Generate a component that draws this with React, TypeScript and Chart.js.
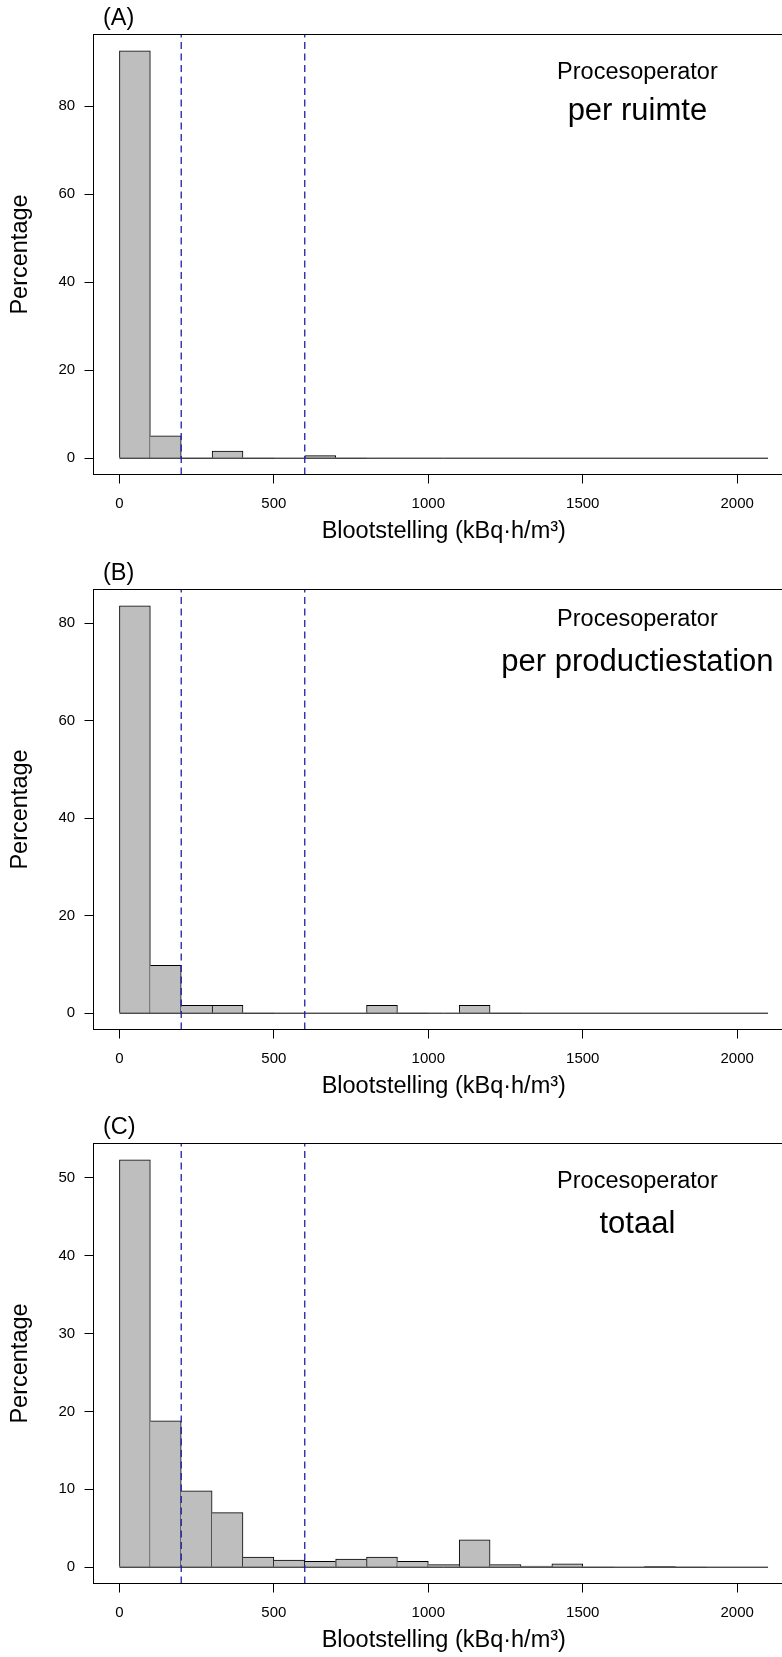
import React, { useEffect, useRef } from "react";
import { Chart, registerables } from "chart.js";

Chart.register(...registerables);

// ---------- data ----------
const binStarts = [0, 100, 200, 300, 400, 500, 600, 700, 800, 900, 1000, 1100, 1200, 1300, 1400, 1500, 1600, 1700, 1800, 1900, 2000];
const BIN_WIDTH = 100;

const percentA = [92.6, 5.1, 0, 1.6, 0, 0, 0.6, 0, 0, 0, 0, 0, 0, 0, 0, 0, 0, 0, 0, 0, 0];
const percentB = [83.6, 9.8, 1.6, 1.6, 0, 0, 0, 0, 1.6, 0, 0, 1.6, 0, 0, 0, 0, 0, 0, 0, 0, 0];
const percentC = [52.3, 18.8, 9.8, 7.0, 1.3, 0.9, 0.77, 1.03, 1.3, 0.77, 0.34, 3.5, 0.34, 0.15, 0.43, 0, 0, 0.1, 0, 0, 0];

const xTicks = [0, 500, 1000, 1500, 2000];
const yTicksA = [0, 20, 40, 60, 80];
const yTicksB = [0, 20, 40, 60, 80];
const yTicksC = [0, 10, 20, 30, 40, 50];

const thresholds = [200, 600];

const panelLabels = ["(A)", "(B)", "(C)"];
const groupLabel = "Procesoperator";
const subtitles = ["per ruimte", "per productiestation", "totaal"];
const xTitle = "Blootstelling (kBq\u00B7h/m\u00B3)";
const yTitle = "Percentage";

// ---------- layout / style ----------
const FONT = '"Liberation Sans", Arial, Helvetica, sans-serif';
const CANVAS_W = 800;
const CANVAS_H = 555;
const PANEL_TOPS = [0, 555, 1109];
const PAD_TOP = 34.5;
const BOX_H = 440;
const Y_AXIS_W = 93.5;
const RIGHT_PAD = 6;
const TEXT_X = 1677;
// vertical offsets (px below the plot frame top) of the two annotation lines, per panel
const TEXT_OFFSETS = [
  [38, 77.8],
  [30, 73.5],
  [38, 77.8],
];
const BAR_FILL = "#BEBEBE";
const DASH_COLOR = "#1E1EA6";

function drawCentered(ctx: CanvasRenderingContext2D, text: string, x: number, yMid: number, font: string) {
  ctx.font = font;
  const m = ctx.measureText(text);
  const asc = m.actualBoundingBoxAscent;
  const desc = m.actualBoundingBoxDescent;
  ctx.fillText(text, x, yMid + (asc - desc) / 2);
}

function makeTextPlugin(label: string, subtitle: string, offsets: number[]) {
  return {
    id: "panelText",
    afterDraw(chart: any) {
      const { ctx, chartArea, scales } = chart;
      ctx.save();
      ctx.fillStyle = "#000";
      ctx.textBaseline = "alphabetic";
      ctx.textAlign = "left";
      ctx.font = `23.5px ${FONT}`;
      ctx.fillText(label, 103, chartArea.top - 9.5);
      const cx = scales.x.getPixelForValue(TEXT_X);
      ctx.textAlign = "center";
      drawCentered(ctx, groupLabel, cx, chartArea.top + offsets[0], `23.5px ${FONT}`);
      drawCentered(ctx, subtitle, cx, chartArea.top + offsets[1], `31px ${FONT}`);
      ctx.restore();
    },
  };
}

const framePlugin = {
  id: "frame",
  afterDatasetsDraw(chart: any) {
    const { ctx, chartArea: a } = chart;
    ctx.save();
    ctx.strokeStyle = "#000";
    ctx.lineWidth = 1;
    ctx.strokeRect(a.left, a.top, a.right - a.left, a.bottom - a.top);
    ctx.restore();
  },
};

function Panel({ values, yTicks, label, subtitle, offsets }: { values: number[]; yTicks: number[]; label: string; subtitle: string; offsets: number[] }) {
  const ref = useRef<HTMLCanvasElement>(null);

  useEffect(() => {
    const canvas = ref.current;
    if (!canvas) return;
    const xStart = binStarts[0];
    const xEnd = binStarts[binStarts.length - 1] + BIN_WIDTH;
    const xSpan = xEnd - xStart;
    const xMin = xStart - 0.04 * xSpan;
    const xMax = xEnd + 0.04 * xSpan;
    const vMax = Math.max(...values);
    const yMin = -0.04 * vMax;
    const yMax = 1.04 * vMax;

    const barData = binStarts.map((s, i) => ({ x: s + BIN_WIDTH / 2, y: values[i] }));

    const datasets: any[] = [
      ...thresholds.map((t) => ({
        type: "line",
        data: [
          { x: t, y: yMin },
          { x: t, y: yMax },
        ],
        borderColor: DASH_COLOR,
        borderWidth: 1.3,
        borderDash: [7, 4.5],
        pointRadius: 0,
        tension: 0,
        order: 0,
      })),
      {
        type: "line",
        data: [
          { x: xStart, y: 0 },
          { x: xEnd, y: 0 },
        ],
        borderColor: "#000",
        borderWidth: 1,
        pointRadius: 0,
        tension: 0,
        order: 1,
      },
      {
        type: "bar",
        data: barData,
        backgroundColor: BAR_FILL,
        borderColor: "#000",
        borderWidth: (c: any) => {
          const i = c.dataIndex;
          if (i === undefined) return 1;
          const left = i === 0 || values[i - 1] <= values[i] ? 1 : 0;
          const right = i === values.length - 1 || values[i + 1] < values[i] ? 1 : 0;
          return { top: 1, left, right, bottom: 0 };
        },
        borderSkipped: false,
        barPercentage: 1,
        categoryPercentage: 1,
        order: 2,
      },
    ];

    const tickFont = { family: FONT, size: 15 };
    const titleFont = { family: FONT, size: 23.5 };
    const gridOpts = {
      display: true,
      drawOnChartArea: false,
      drawTicks: true,
      tickLength: 9,
      color: "#000",
      lineWidth: 1,
      offset: false,
    };

    const chart = new Chart(canvas, {
      type: "bar",
      data: { datasets },
      options: {
        animation: false,
        responsive: false,
        devicePixelRatio: 1,
        layout: { padding: { top: PAD_TOP, right: RIGHT_PAD, bottom: 0, left: 0 } },
        plugins: { legend: { display: false }, tooltip: { enabled: false }, title: { display: false } },
        events: [],
        scales: {
          x: {
            type: "linear",
            position: "bottom",
            min: xMin,
            max: xMax,
            offset: false,
            bounds: "data",
            afterBuildTicks: (s: any) => {
              s.ticks = xTicks.map((v) => ({ value: v }));
            },
            afterFit: (s: any) => {
              s.height = CANVAS_H - PAD_TOP - BOX_H;
            },
            grid: gridOpts,
            border: { display: false },
            ticks: {
              font: tickFont,
              color: "#000",
              padding: 11.2,
              maxRotation: 0,
              autoSkip: false,
              callback: (v: any) => String(v),
            },
            title: {
              display: true,
              text: xTitle,
              font: titleFont,
              color: "#000",
              padding: { top: 0, bottom: 9 },
            },
          },
          y: {
            type: "linear",
            position: "left",
            min: yMin,
            max: yMax,
            offset: false,
            bounds: "data",
            afterBuildTicks: (s: any) => {
              s.ticks = yTicks.map((v) => ({ value: v }));
            },
            afterFit: (s: any) => {
              s.width = Y_AXIS_W;
            },
            grid: gridOpts,
            border: { display: false },
            ticks: {
              font: tickFont,
              color: "#000",
              padding: 9.3,
              autoSkip: false,
              callback: (v: any) => String(v),
            },
            title: {
              display: true,
              text: yTitle,
              font: titleFont,
              color: "#000",
              padding: { top: 6.8, bottom: 0 },
            },
          },
        },
      } as any,
      plugins: [framePlugin, makeTextPlugin(label, subtitle, offsets)],
    });

    return () => chart.destroy();
  }, [values, yTicks, label, subtitle, offsets]);

  return <canvas ref={ref} width={CANVAS_W} height={CANVAS_H} style={{ display: "block", width: CANVAS_W, height: CANVAS_H }} />;
}

const panelValues = [percentA, percentB, percentC];
const panelYTicks = [yTicksA, yTicksB, yTicksC];

export default function App() {
  return (
    <div
      style={{
        position: "absolute",
        left: 0,
        top: 0,
        width: 782,
        height: 1657,
        overflow: "hidden",
        background: "#fff",
      }}
    >
      {panelValues.map((vals, i) => (
        <div key={i} style={{ position: "absolute", left: 0, top: PANEL_TOPS[i] }}>
          <Panel values={vals} yTicks={panelYTicks[i]} label={panelLabels[i]} subtitle={subtitles[i]} offsets={TEXT_OFFSETS[i]} />
        </div>
      ))}
    </div>
  );
}
